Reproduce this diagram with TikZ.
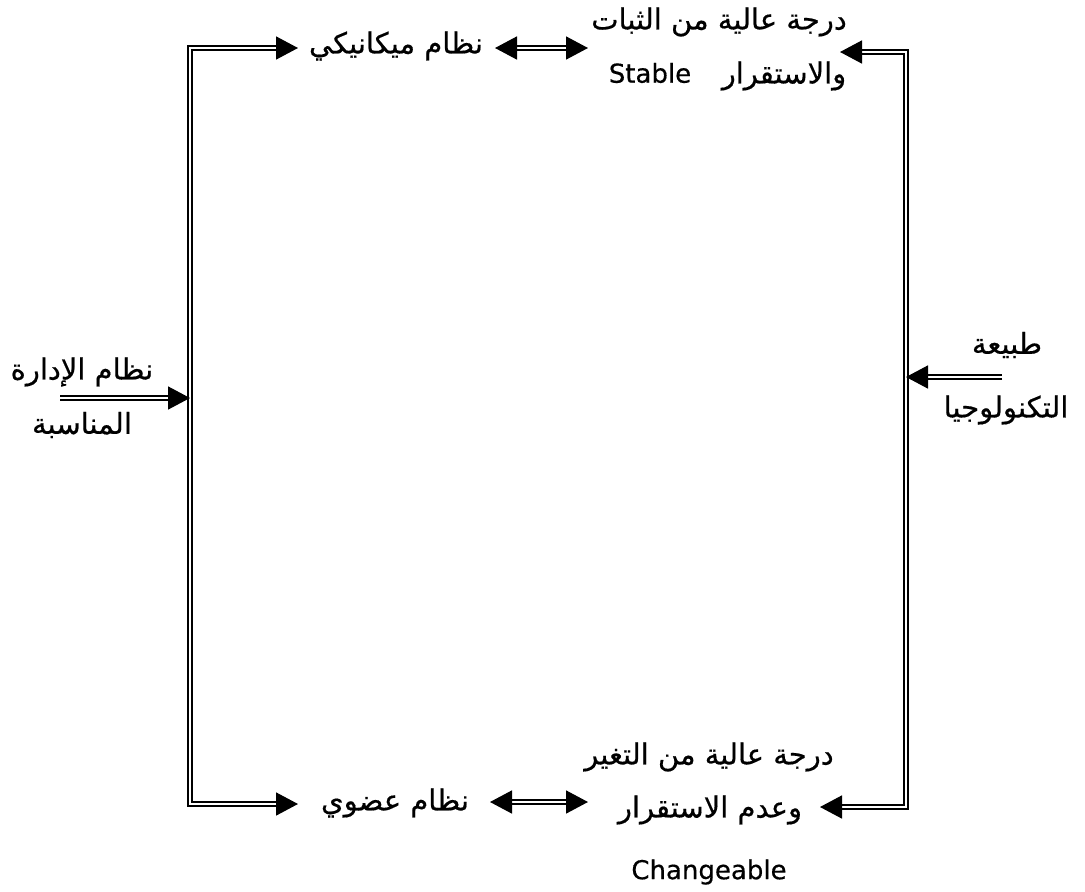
\documentclass[tikz,border=0pt]{standalone}
\usepackage{fontspec}
\setmainfont{DejaVu Sans}[FakeBold=0.5]
\newfontfamily\arfont[Script=Arabic,FakeBold=0.5]{DejaVu Sans}
\TeXXeTstate=1
\usetikzlibrary{arrows.meta}
\newcommand{\artxt}[1]{{\arfont\beginR #1\endR}}
\begin{document}
\begin{tikzpicture}[x=1pt,y=-1pt,
  lbl/.style={inner sep=0pt, font=\fontsize{29}{34}\selectfont},
  latin/.style={inner sep=0pt, font=\fontsize{26}{30}\selectfont},
  dbl/.style={double, double distance=2.2pt, line width=1.6pt},
  tip/.style={-{Triangle[length=22pt,width=23pt]}},
  tips/.style={{Triangle[length=22pt,width=23pt]}-{Triangle[length=22pt,width=23pt]}}]
\useasboundingbox (0,0) rectangle (1085,892);
% text nodes
\node[lbl] (mech) at (396,46) {\artxt{نظام ميكانيكي}};
\node[lbl] (stab1) at (719,22) {\artxt{درجة عالية من الثبات}};
\node[lbl] (stab2) at (784,76) {\artxt{والاستقرار}};
\node[latin] (stable) at (650,73) {Stable};
\node[lbl] (mgmt1) at (82,372) {\artxt{نظام الإدارة}};
\node[lbl] (mgmt2) at (82,425) {\artxt{المناسبة}};
\node[lbl] (tech1) at (1007,345) {\artxt{طبيعة}};
\node[lbl] (tech2) at (1006,410) {\artxt{التكنولوجيا}};
\node[lbl] (org) at (395,803) {\artxt{نظام عضوي}};
\node[lbl] (chg1) at (709,757) {\artxt{درجة عالية من التغير}};
\node[lbl] (chg2) at (710,810) {\artxt{وعدم الاستقرار}};
\node[latin] (changeable) at (709,872) {Changeable};
% junction coordinates
\coordinate (ltop) at (190,48);
\coordinate (lbot) at (190,804);
\coordinate (lmid) at (190,398);
\coordinate (rtop) at (906,52);
\coordinate (rbot) at (906,807);
\coordinate (rmid) at (906,377);
\coordinate (mechL) at (298,48);
\coordinate (orgL) at (298,804);
\coordinate (stabL) at (840,52);
\coordinate (chgR) at (820,807);
\coordinate (mgmtS) at (60,398);
\coordinate (techS) at (1002,377);
\coordinate (mechR) at (495,48);
\coordinate (stabA) at (588,48);
\coordinate (orgR) at (490,802);
\coordinate (chgA) at (588,802);
% connectors
\draw[dbl,tips] (mechL) -- (ltop) -- (lbot) -- (orgL);
\draw[dbl,tips] (stabL) -- (rtop) -- (rbot) -- (chgR);
\draw[dbl,tip] (mgmtS) -- (lmid);
\draw[dbl,tip] (techS) -- (rmid);
\draw[dbl,tips] (mechR) -- (stabA);
\draw[dbl,tips] (orgR) -- (chgA);
\end{tikzpicture}
\end{document}
